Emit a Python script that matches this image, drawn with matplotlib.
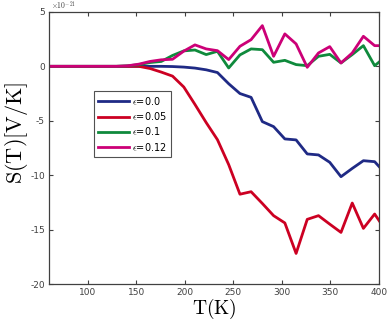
import numpy as np
import matplotlib
matplotlib.use("Agg")
from matplotlib import pyplot as plt

plt.rcParams['mathtext.fontset'] = 'cm'
plt.rcParams['axes.unicode_minus'] = False

# temperature grid (K)
T = [60.0, 71.6, 83.2, 94.7, 106.3, 117.9, 129.5, 141.1, 152.6, 164.2,
     175.8, 187.4, 199.0, 210.5, 222.1, 233.7, 245.3, 256.9, 268.4, 280.0,
     291.6, 303.2, 314.8, 326.3, 337.9, 349.5, 361.1, 372.7, 384.2, 395.8, 407.4]

# thermopower in units of 1e-21 V/K
s_00 = [0, 0, 0, 0, 0, 0, 0, 0, 0, 0,
        0, -0.02, -0.07, -0.16, -0.32, -0.57, -1.6, -2.5, -2.85, -5.08,
        -5.54, -6.67, -6.76, -8.05, -8.14, -8.82, -10.14, -9.38, -8.67, -8.76, -9.9]
s_005 = [0, 0, 0, 0, 0, 0, 0, 0, 0, -0.2,
         -0.53, -0.9, -1.9, -3.5, -5.17, -6.74, -9.03, -11.75, -11.52, -12.6,
         -13.72, -14.39, -17.19, -14.06, -13.72, -14.5, -15.26, -12.56, -14.89, -13.57, -15.1]
s_01 = [0, 0, 0, 0, 0, 0, 0, 0.05, 0.15, 0.35,
        0.45, 1.0, 1.42, 1.5, 1.08, 1.38, -0.15, 1.05, 1.6, 1.53,
        0.37, 0.55, 0.16, 0.06, 0.92, 1.1, 0.31, 1.08, 1.9, 0.06, 0.9]
s_012 = [0, 0, 0, 0, 0, 0, 0, 0.05, 0.2, 0.45,
         0.6, 0.65, 1.4, 1.97, 1.6, 1.44, 0.62, 1.84, 2.45, 3.74,
         0.92, 2.98, 2.06, -0.09, 1.23, 1.81, 0.31, 1.23, 2.76, 1.9, 1.9]

labels = [r'$\epsilon$=0.0', r'$\epsilon$=0.05', r'$\epsilon$=0.1', r'$\epsilon$=0.12']
colors = ['#1f2a85', '#cc0022', '#0f8a3c', '#cc0077']

fig = plt.figure(figsize=(3.87, 3.22), dpi=100)
ax = fig.add_axes([0.1266, 0.118, 0.852, 0.845])

for s, lab, c in zip([s_00, s_005, s_01, s_012], labels, colors):
    ax.plot(T, s, color=c, linewidth=2.0, label=lab)

ax.set_xlim(60, 400)
ax.set_ylim(-20, 5)
ax.set_xticks([100, 150, 200, 250, 300, 350, 400])
ax.set_yticks([-20, -15, -10, -5, 0, 5])

# exponent like MATLAB puts it
ax.text(0.005, 1.0, r'$\times10^{-21}$', transform=ax.transAxes,
        fontsize=5.5, color='#404040', va='bottom', ha='left')

ax.tick_params(direction='in', top=True, right=True, length=3, width=0.8,
               labelsize=6.5, colors='#404040', pad=3)
for sp in ax.spines.values():
    sp.set_color('#404040')
    sp.set_linewidth(0.9)

ax.set_xlabel(r'$\mathrm{T(K)}$', fontsize=14, labelpad=0)
ax.set_ylabel(r'$\mathrm{S(T)[V/K]}$', fontsize=16)
ax.yaxis.set_label_coords(-0.058, 0.555)

leg = ax.legend(loc='lower left', bbox_to_anchor=(0.136, 0.468), fontsize=7,
                frameon=True, fancybox=False, edgecolor='#262626',
                handlelength=3.2, handletextpad=0.3, borderpad=0.4,
                labelspacing=0.35, borderaxespad=0)
leg.get_frame().set_linewidth(0.8)

fig.savefig('out.png', dpi=100)
